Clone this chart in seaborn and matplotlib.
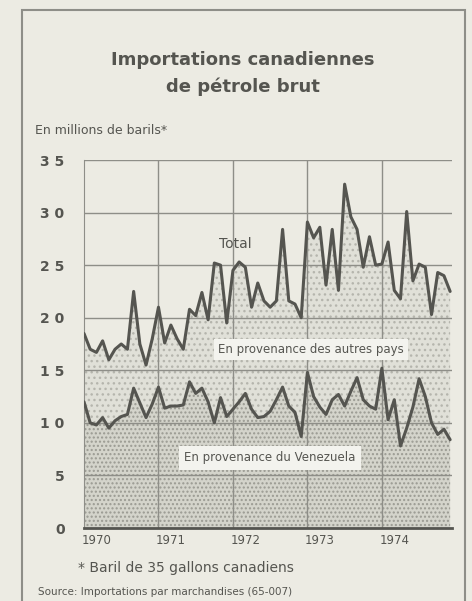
import numpy as np
import pandas as pd
import seaborn as sns
import matplotlib.pyplot as plt
from matplotlib.patches import Rectangle

# monthly values, Jan 1970 .. Dec 1974 (millions of barrels)
total = [18.5, 17.0, 16.7, 17.8, 16.0, 17.0, 17.5, 17.0, 22.5, 17.5,
         15.5, 18.0, 21.0, 17.6, 19.3, 18.0, 17.0, 20.8, 20.2, 22.4,
         19.8, 25.2, 25.0, 19.5, 24.5, 25.3, 24.8, 21.0, 23.3, 21.6,
         21.0, 21.6, 28.4, 21.6, 21.3, 20.0, 29.1, 27.6, 28.6, 23.1,
         28.4, 22.6, 32.7, 29.6, 28.4, 24.8, 27.7, 25.0, 25.1, 27.2,
         22.6, 21.8, 30.1, 23.5, 25.1, 24.8, 20.3, 24.3, 24.0, 22.5]
venezuela = [12.0, 10.0, 9.8, 10.5, 9.5, 10.2, 10.6, 10.8, 13.3, 11.9,
             10.5, 11.8, 13.4, 11.4, 11.6, 11.6, 11.7, 13.9, 12.8, 13.3,
             12.0, 10.0, 12.4, 10.6, 11.3, 12.0, 12.8, 11.3, 10.5, 10.6,
             11.1, 12.2, 13.4, 11.6, 11.0, 8.7, 14.8, 12.5, 11.5, 10.8,
             12.2, 12.7, 11.6, 13.0, 14.3, 12.2, 11.6, 11.3, 15.2, 10.3,
             12.2, 7.8, 9.5, 11.5, 14.2, 12.5, 10.0, 8.9, 9.4, 8.4]
years = ["1970", "1971", "1972", "1973", "1974"]
y_ticks = [0, 5, 10, 15, 20, 25, 30, 35]

df = pd.DataFrame({"month": np.arange(len(total)), "total": total, "venezuela": venezuela})

bg = "#ecebe3"
ink = "#555550"
grid = "#8e8e88"

sns.set_style("white")
plt.rcParams["font.family"] = ["DejaVu Sans"]

fig = plt.figure(figsize=(4.72, 6.01), dpi=100)
fig.patch.set_facecolor(bg)

# outer frame (bottom runs off the page)
fig.add_artist(Rectangle((22 / 472, -0.02), (465 - 22) / 472, 1 - 10 / 601 + 0.02,
                         transform=fig.transFigure, fill=False, edgecolor=grid, lw=1.5))

ax = fig.add_axes([84 / 472, 1 - 528 / 601, (452 - 84) / 472, (528 - 160) / 601])
ax.set_facecolor(bg)

ax.fill_between(df["month"], 0, df["venezuela"], facecolor="#d4d4cb", edgecolor="#9a9a92",
                hatch="....", lw=0, zorder=1)
ax.fill_between(df["month"], df["venezuela"], df["total"], facecolor="#e0e0d8", edgecolor="#b5b5ad",
                hatch="...", lw=0, zorder=1)

for v in y_ticks[1:]:
    ax.axhline(v, color=grid, lw=1.0, zorder=2)
for i in range(1, len(years)):
    ax.axvline(12 * i, color=grid, lw=1.0, zorder=2)

sns.lineplot(data=df, x="month", y="total", ax=ax, color=ink, lw=2.2, zorder=4)
sns.lineplot(data=df, x="month", y="venezuela", ax=ax, color=ink, lw=2.2, zorder=4)

ax.set_xlim(0, 59.3)
ax.set_ylim(0, 35)
ax.set_yticks(y_ticks)
ax.set_yticklabels([" ".join(str(t)) for t in y_ticks], fontsize=10, color=ink, fontweight="bold")
ax.set_xticks([12 * i + 2 for i in range(len(years))])
ax.set_xticklabels(years, fontsize=8.5, color=ink)
ax.tick_params(length=0, pad=4)
ax.tick_params(axis="y", pad=14)
ax.set_xlabel("")
ax.set_ylabel("")
for side in ["top", "right"]:
    ax.spines[side].set_visible(False)
ax.spines["left"].set_color(grid)
ax.spines["bottom"].set_color(ink)
ax.spines["bottom"].set_linewidth(2)

ax.text(24.4, 27.0, "Total", fontsize=10, color=ink, ha="center", va="center", zorder=5)
ax.text(36.5, 17.0, "En provenance des autres pays", fontsize=8.5, color=ink, ha="center", va="center",
        zorder=5, bbox=dict(facecolor="#f3f3ee", edgecolor="none", pad=3))
ax.text(30, 6.7, "En provenance du Venezuela", fontsize=8.5, color=ink, ha="center", va="center",
        zorder=5, bbox=dict(facecolor="#f3f3ee", edgecolor="none", pad=4))

fig.text(243 / 472, 1 - 60 / 601, "Importations canadiennes", fontsize=13, fontweight="bold",
         color=ink, ha="center", va="center")
fig.text(243 / 472, 1 - 87 / 601, "de pétrole brut", fontsize=13, fontweight="bold",
         color=ink, ha="center", va="center")
fig.text(35 / 472, 1 - 130 / 601, "En millions de barils*", fontsize=9, color=ink, ha="left", va="center")
fig.text(78 / 472, 1 - 568 / 601, "* Baril de 35 gallons canadiens", fontsize=10, color=ink,
         ha="left", va="center")
fig.text(38 / 472, 1 - 592 / 601, "Source: Importations par marchandises (65-007)", fontsize=7.5,
         color=ink, ha="left", va="center")

fig.savefig("out.png", dpi=100, facecolor=bg)
